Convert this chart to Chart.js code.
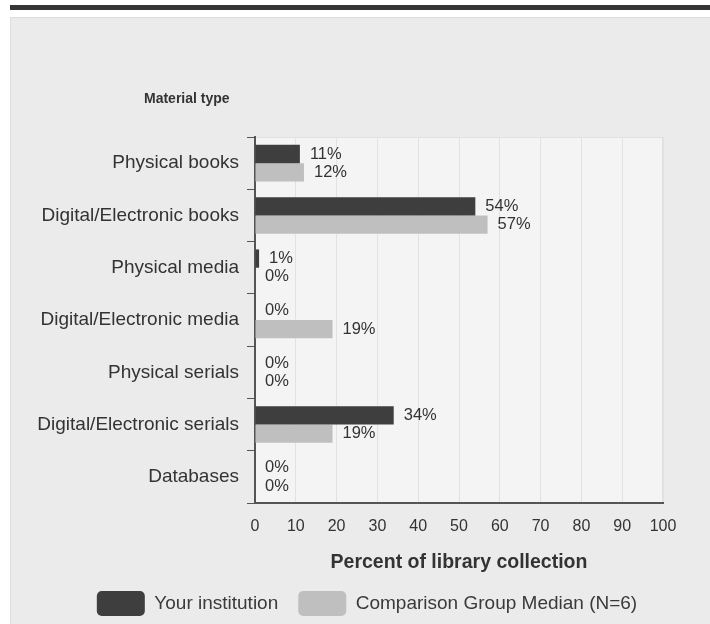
<!DOCTYPE html>
<html>
<head>
<meta charset="utf-8">
<script src="https://cdn.jsdelivr.net/npm/chart.js@4/dist/chart.umd.min.js"></script>
<style>
  html, body { margin: 0; padding: 0; background: #ffffff; overflow: hidden; }
  #topbar { position: absolute; left: 10px; top: 5px; width: 700px; height: 5px; background: #363636; }
  #panel { position: absolute; left: 10px; top: 17px; width: 700px; height: 607px; background: #ebebeb; border-left: 1px solid #dddddd; border-top: 1px solid #dddddd; box-sizing: border-box; }
  #wrap { position: absolute; left: 0; top: 0; width: 710px; height: 624px; }
</style>
</head>
<body>
<div id="topbar"></div>
<div id="panel"></div>
<div id="wrap"><canvas id="c" width="710" height="624"></canvas></div>
<script>
const categories = [
  "Physical books",
  "Digital/Electronic books",
  "Physical media",
  "Digital/Electronic media",
  "Physical serials",
  "Digital/Electronic serials",
  "Databases"
];
const yourInstitution = [11, 54, 1, 0, 0, 34, 0];
const comparisonMedian = [12, 57, 0, 19, 0, 19, 0];
const seriesNames = ["Your institution", "Comparison Group Median (N=6)"];
const xTicks = [0, 10, 20, 30, 40, 50, 60, 70, 80, 90, 100];
const yAxisTitle = "Material type";
const xAxisTitle = "Percent of library collection";

const FONT = "'Liberation Sans', Arial, sans-serif";

const plotBg = {
  id: 'plotBg',
  beforeDraw(chart) {
    const {ctx, chartArea: a} = chart;
    ctx.save();
    ctx.fillStyle = '#f4f4f4';
    ctx.fillRect(a.left, a.top, a.right - a.left, a.bottom - a.top);
    ctx.strokeStyle = '#e0e0e0';
    ctx.lineWidth = 1;
    ctx.strokeRect(a.left + 0.5, a.top + 0.5, a.right - a.left - 1, a.bottom - a.top - 1);
    ctx.restore();
  }
};

const valueLabels = {
  id: 'valueLabels',
  afterDatasetsDraw(chart) {
    const {ctx} = chart;
    ctx.save();
    ctx.font = "16.5px " + FONT;
    ctx.fillStyle = '#333333';
    ctx.textAlign = 'left';
    ctx.textBaseline = 'middle';
    chart.data.datasets.forEach((ds, di) => {
      const meta = chart.getDatasetMeta(di);
      meta.data.forEach((bar, i) => {
        ctx.fillText(ds.data[i] + '%', bar.x + 10, bar.y);
      });
    });
    ctx.restore();
  }
};

const cornerTitle = {
  id: 'cornerTitle',
  afterDraw(chart) {
    const {ctx, chartArea: a} = chart;
    ctx.save();
    ctx.font = "bold 14px " + FONT;
    ctx.fillStyle = '#333333';
    ctx.textAlign = 'left';
    ctx.textBaseline = 'middle';
    ctx.fillText(yAxisTitle, a.left - 111, a.top - 38);
    ctx.restore();
  }
};

new Chart(document.getElementById('c'), {
  type: 'bar',
  data: {
    labels: categories,
    datasets: [
      { label: seriesNames[0], data: yourInstitution, backgroundColor: '#3e3e3e', borderWidth: 0,
        categoryPercentage: 0.7, barPercentage: 1.0 },
      { label: seriesNames[1], data: comparisonMedian, backgroundColor: '#bfbfbf', borderWidth: 0,
        categoryPercentage: 0.7, barPercentage: 1.0 }
    ]
  },
  options: {
    indexAxis: 'y',
    responsive: false,
    animation: false,
    events: [],
    layout: { padding: { top: 137, left: 24, right: 0, bottom: -2 } },
    scales: {
      x: {
        min: 0, max: 100,
        afterBuildTicks(s) { s.ticks = xTicks.map(v => ({ value: v })); },
        afterFit(s) { s.height = 68; },
        grid: { color: '#e2e2e2', drawTicks: false, lineWidth: 1 },
        border: { color: '#555555', width: 2 },
        ticks: { color: '#333333', font: { family: FONT, size: 16 }, padding: 14, maxRotation: 0 },
        title: { display: true, text: xAxisTitle, color: '#333333',
                 font: { family: FONT, size: 19.5, weight: 'bold', lineHeight: 0.85 }, padding: 0 }
      },
      y: {
        afterFit(s) { s.width = 231; },
        grid: { display: true, drawOnChartArea: false, drawTicks: true, tickLength: 8, color: '#555555', offset: true },
        border: { color: '#555555', width: 2 },
        ticks: { color: '#333333', font: { family: FONT, size: 19 }, padding: 8 }
      },
      y2: {
        position: 'right',
        type: 'category',
        afterFit(s) { s.width = 47; },
        grid: { display: false },
        border: { display: false },
        ticks: { display: false }
      }
    },
    plugins: {
      legend: {
        position: 'bottom',
        labels: {
          boxWidth: 48, boxHeight: 25, padding: 20, useBorderRadius: true, borderRadius: 5,
          color: '#3a3a3a', font: { family: FONT, size: 19 }
        }
      },
      tooltip: { enabled: false }
    }
  },
  plugins: [plotBg, valueLabels, cornerTitle]
});
</script>
</body>
</html>
